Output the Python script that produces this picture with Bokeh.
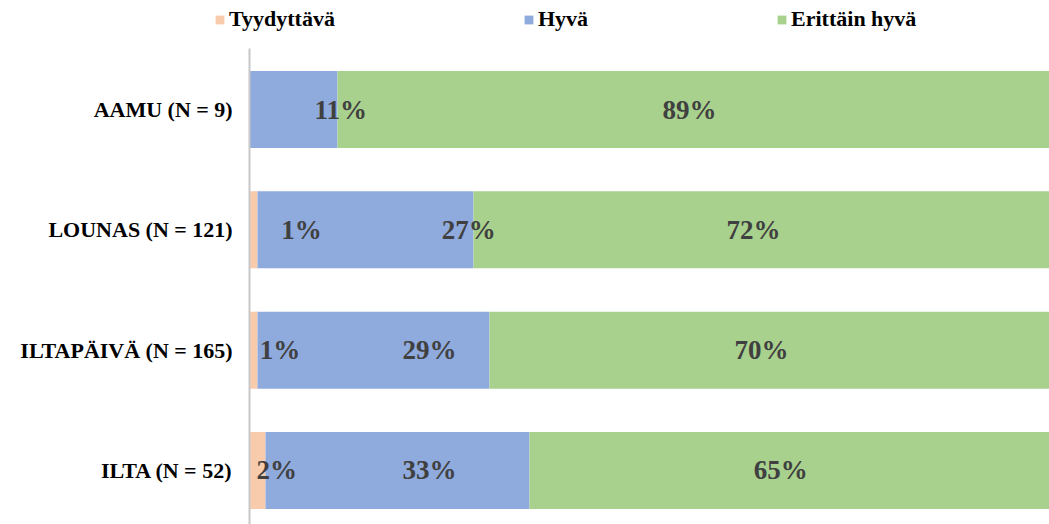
from bokeh.plotting import figure
from bokeh.models import ColumnDataSource, Range1d, Legend, LegendItem
from bokeh.core.properties import value
from bokeh.embed import file_html
from bokeh.resources import INLINE

# Survey results per time of day (percent of answers)
categories = ["AAMU (N = 9)", "LOUNAS (N = 121)", "ILTAPÄIVÄ (N = 165)", "ILTA (N = 52)"]
tyydyttava = [0, 1, 1, 2]
hyva = [11, 27, 29, 33]
erittain_hyva = [89, 72, 70, 65]
series_names = ["Tyydyttävä", "Hyvä", "Erittäin hyvä"]
series_colors = ["#F8CBAD", "#8FAADC", "#A9D18E"]

# Where each value label sits along the bar (percent axis units)
label_pos_tyyd = [0, 6.5, 3.8, 3.4]
label_pos_hyva = [11.4, 27.4, 22.5, 22.5]
label_pos_erit = [55.0, 63.0, 64.0, 66.4]

FONT = "Liberation Serif"

# layout constants (data units)
Y_BOTTOM, Y_TOP = -0.449, 3.906
AXIS_TOP = 3.507
X_LEFT = -31.125
CAT_LABEL_X = -2.1

# first category at the top
ypos = [len(categories) - 1 - i for i in range(len(categories))]

src = ColumnDataSource(dict(
    y=ypos,
    tyyd=tyydyttava,
    hyva=hyva,
    erit=erittain_hyva,
))

p = figure(
    width=1049, height=524,
    x_range=Range1d(X_LEFT, 100),
    y_range=Range1d(Y_BOTTOM, Y_TOP),
    output_backend="svg", toolbar_location=None,
    min_border=0,
)
p.axis.visible = False
p.grid.visible = False
p.outline_line_color = None

renderers = p.hbar_stack(
    ["tyyd", "hyva", "erit"], y="y", height=0.64, source=src,
    color=series_colors, line_color=None,
)

# vertical category axis line
p.segment(x0=[0], y0=[Y_BOTTOM], x1=[0], y1=[AXIS_TOP], line_color="#C8C8C8", line_width=2)

# category labels
p.text(
    x=[CAT_LABEL_X] * len(categories), y=ypos, text=categories,
    text_font=value(FONT), text_font_style="bold", text_font_size="22px",
    text_color="#000000", text_align="right", text_baseline="middle",
)

# value labels
lx, ly, lt = [], [], []
for vals, pos in ((tyydyttava, label_pos_tyyd), (hyva, label_pos_hyva), (erittain_hyva, label_pos_erit)):
    for v, xp, yy in zip(vals, pos, ypos):
        if v > 0:
            lx.append(xp)
            ly.append(yy)
            lt.append(f"{v}%")
p.text(
    x=lx, y=ly, text=lt,
    text_font=value(FONT), text_font_style="bold", text_font_size="27px",
    text_color="#404040", text_align="center", text_baseline="middle",
)

legend = Legend(
    items=[LegendItem(label=n, renderers=[r]) for n, r in zip(series_names, renderers)],
    orientation="horizontal",
    location=(214, 492),
    spacing=188,
    label_standoff=4,
    glyph_width=11, glyph_height=11,
    label_text_font=FONT, label_text_font_style="bold", label_text_font_size="22px",
    label_text_color="#000000",
    border_line_color=None, background_fill_alpha=0,
    padding=0, margin=0,
)
p.add_layout(legend, "center")

open("out.html", "w").write(file_html(p, INLINE))
